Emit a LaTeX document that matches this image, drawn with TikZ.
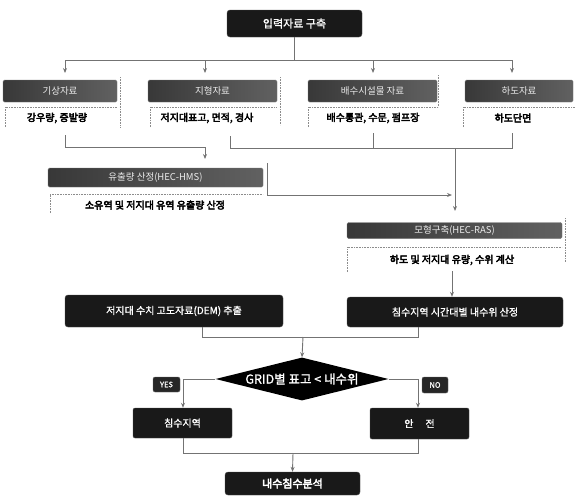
\documentclass[tikz,border=0pt]{standalone}
\usepackage{fontspec}
\setmainfont{Noto Sans CJK KR}
\newfontfamily\krb{Noto Sans CJK KR}[FakeBold=4]
\newfontfamily\krm{Noto Sans CJK KR}[FakeBold=1.2]
\usetikzlibrary{shapes.geometric,arrows.meta}
\begin{document}
\begin{tikzpicture}[x=1pt,y=-1pt,
  darkbox/.style={fill=black!90, draw=black!70, rounded corners=3pt, text=white, inner sep=0pt, font=\krm\fontsize{10}{12}\selectfont},
  hdr/.style={left color=black!78, right color=black!62, draw=black!55, rounded corners=1.5pt, text=white!92!black, inner sep=0pt, font=\fontsize{9.5}{11}\selectfont},
  subtxt/.style={text=black, inner sep=1pt, font=\krb\fontsize{10}{12}\selectfont},
  frame/.style={draw=black!45, line width=0.6pt, densely dotted},
  conn/.style={draw=black!55, line width=0.9pt},
  arr/.style={conn, -{Stealth[length=5pt,width=4pt]}},
  tag/.style={fill=black!85, draw=black!60, rounded corners=2pt, text=white, inner sep=0pt, font=\krm\fontsize{7.5}{8}\selectfont}
]
\useasboundingbox (0,0) rectangle (575,499);

% top box
\node[darkbox, minimum width=135pt, minimum height=27pt, font=\krm\fontsize{11}{13}\selectfont] (top) at (294.5,23.5) {입력자료 구축};

% data headers
\node[hdr, minimum width=114pt, minimum height=22pt] (gs) at (60,91) {기상자료};
\node[hdr, minimum width=129pt, minimum height=22pt] (jh) at (212.5,91) {지형자료};
\node[hdr, minimum width=129pt, minimum height=22pt] (bs) at (372.5,91) {배수시설물 자료};
\node[hdr, minimum width=108pt, minimum height=22pt] (hd) at (519,91) {하도자료};

% side lines of data headers
\draw[frame] (120,77) -- (120,127);
\draw[frame] (280,77) -- (280,125);
\draw[frame] (438,75) -- (438,107);

% subtext frames
\draw[frame] (5,127) -- (5,107) -- (117,107);
\draw[frame] (150,127) -- (150,107) -- (277,107);
\draw[frame] (308,127) -- (308,107) -- (437,107);
\draw[frame] (463,127) -- (463,107) -- (575,107);

\node[subtxt] (gst) at (57,118) {강우량, 증발량};
\node[subtxt] (jht) at (207,118) {저지대표고, 면적, 경사};
\node[subtxt] (bst) at (373,118) {배수통관, 수문, 펌프장};
\node[subtxt] (hdt) at (513,118) {하도단면};

% bus from top box
\coordinate (busL) at (65,60);
\coordinate (busR) at (512,60);
\draw[conn] (top.south) -- (top.south |- busL);
\draw[conn] (busL) -- (busR);
\draw[arr] (busL) -- ++(0,13);
\draw[arr] (205,60) -- ++(0,13);
\draw[arr] (373,60) -- ++(0,13);
\draw[arr] (busR) -- ++(0,13);

% runoff header
\node[hdr, minimum width=215pt, minimum height=19pt] (ro) at (155.5,177.5) {유출량 산정(HEC-HMS)};
\draw[frame] (50,213) -- (50,194) -- (263,194);
\node[subtxt] (rot) at (155,205) {소유역 및 저지대 유역 유출량 산정};

% model header
\node[hdr, minimum width=215pt, minimum height=16pt] (md) at (454.5,230.5) {모형구축(HEC-RAS)};
\draw[frame] (565,218) -- (565,262);
\draw[frame] (347,272) -- (347,247) -- (562,247);
\node[subtxt] (mdt) at (452,260) {하도 및 저지대 유량, 수위 계산};

% merge 1 : weather -> runoff
\coordinate (m1a) at (65,135);
\coordinate (m1b) at (65,147);
\coordinate (m1c) at (205,147);
\coordinate (m1d) at (205,159);
\draw[conn] (m1a) -- (m1b) -- (m1c);
\draw[arr] (m1c) -- (m1d);

% merge 2 : terrain, drainage, channel -> model
\coordinate (m2a) at (230,136);
\coordinate (m2b) at (230,148);
\coordinate (m2c) at (512,148);
\coordinate (m2d) at (373,133);
\coordinate (m2e) at (512,133);
\coordinate (m2v) at (455,148);
\coordinate (m2w) at (455,211);
\draw[conn] (m2a) -- (m2b) -- (m2c) -- (m2e);
\draw[conn] (m2d) -- (m2d |- m2b);
\draw[arr] (m2v) -- (m2w);

% runoff -> model
\coordinate (r1) at (267,163);
\coordinate (r2) at (267,195);
\coordinate (r3) at (452,195);
\draw[conn] (r1) -- (r2);
\draw[arr] (r2) -- (r3);

% DEM and inundation level boxes
\node[darkbox, minimum width=218pt, minimum height=32pt] (dem) at (174,311) {저지대 수치 고도자료(DEM) 추출};
\node[darkbox, minimum width=216pt, minimum height=30pt] (lvl) at (455,312) {침수지역 시간대별 내수위 산정};

\coordinate (mv) at (452,271);
\draw[arr] (mv) -- (lvl.north -| mv);

% merge 3
\coordinate (m3a) at (202,337);
\coordinate (m3b) at (418,337);
\coordinate (m3c) at (303,337);
\draw[conn] (dem.south -| m3a) -- (m3a) -- (m3b) -- (lvl.south -| m3b);

% decision
\node[diamond, fill=black, aspect=4, minimum width=173pt, minimum height=43pt, inner sep=0pt, text=white, font=\krm\fontsize{12.5}{14}\selectfont] (dec) at (302,379) {GRID별 표고 < 내수위};
\draw[arr] (m3c) -- (dec.north);

% branches
\node[darkbox, minimum width=99pt, minimum height=30pt, rounded corners=2pt] (yes) at (182.5,423) {침수지역};
\node[darkbox, minimum width=99pt, minimum height=31pt, rounded corners=2pt] (no) at (419.5,423.5) {안\hspace{1.2em}전};

\node[tag, minimum width=27pt, minimum height=15pt] (ty) at (166.5,384.5) {YES};
\node[tag, minimum width=26pt, minimum height=16pt] (tn) at (435,385) {NO};

\coordinate (yc) at (183,379);
\coordinate (nc) at (418,379);
\draw[conn] (dec.west) -- (yc);
\draw[arr] (yc) -- (yes.north -| yc);
\draw[conn] (dec.east) -- (nc);
\draw[arr] (nc) -- (no.north -| nc);

% final merge
\coordinate (m4a) at (183,453);
\coordinate (m4b) at (418,453);
\coordinate (m4c) at (293,453);
\draw[conn] (yes.south -| m4a) -- (m4a) -- (m4b) -- (no.south -| m4b);

\node[darkbox, minimum width=135pt, minimum height=23pt, font=\krb\fontsize{11}{13}\selectfont] (fin) at (292.5,483.5) {내수침수분석};
\draw[arr] (m4c) -- (fin.north);
\end{tikzpicture}
\end{document}
